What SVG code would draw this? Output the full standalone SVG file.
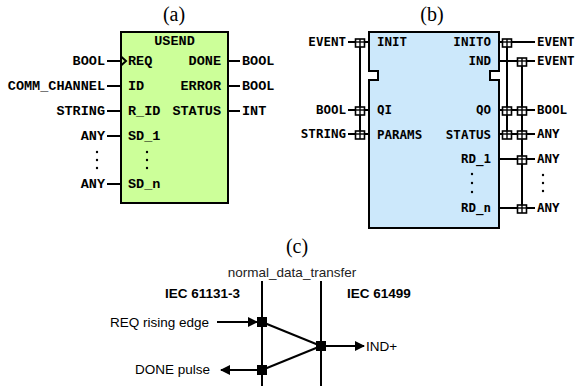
<svg xmlns="http://www.w3.org/2000/svg" width="577" height="391" viewBox="0 0 577 391">
  <style>
    .cap { font-family: "Liberation Serif", "Times New Roman", serif; font-size: 20px; text-anchor: middle; }
    .cour { font-family: "Liberation Mono", "Courier New", monospace; font-weight: bold; font-size: 13.5px; }
    .mono { font-family: "DejaVu Sans Mono", monospace; font-weight: bold; font-size: 12.5px; }
    .sans { font-family: "Liberation Sans", Arial, sans-serif; font-size: 13.5px; }
    .bold { font-weight: bold; }
    .end { text-anchor: end; }
    .mid { text-anchor: middle; }
    .ln { stroke: #000; stroke-width: 2; fill: none; }
    .pin { fill: #fff; stroke: #000; stroke-width: 1.6; }
    .dot { fill: #000; }
  </style>
  <defs>
    <marker id="arrow" viewBox="0 0 10 10" refX="9" refY="5" markerWidth="5" markerHeight="5" orient="auto">
      <path d="M0,0 L10,5 L0,10 Z" fill="#000"/>
    </marker>
    <!-- square junction with the wires crossing through it -->
    <g id="jn">
      <rect x="-4.5" y="-3" width="9" height="8" class="pin"/>
      <line x1="-4.5" y1="0" x2="4.5" y2="0" stroke="#000" stroke-width="1.4"/>
      <line x1="0" y1="-3" x2="0" y2="5" stroke="#000" stroke-width="1.4"/>
    </g>
  </defs>

  <!-- captions -->
  <text class="cap" x="174" y="21">(a)</text>
  <text class="cap" x="432" y="21">(b)</text>
  <text class="cap" x="297" y="253">(c)</text>

  <!-- (a) USEND function block -->
  <g id="usend">
    <rect x="121" y="32" width="107" height="171" fill="#ccff99" stroke="#000" stroke-width="2"/>
    <text class="cour mid" x="174.5" y="45">USEND</text>
    <!-- rising-edge input marker -->
    <polyline points="121,56.5 126,61 121,65.5" class="ln" stroke-width="1.6"/>
    <text class="cour" x="128" y="65">REQ</text>
    <text class="cour" x="128" y="90">ID</text>
    <text class="cour" x="128" y="115">R_ID</text>
    <text class="cour" x="128" y="140">SD_1</text>
    <text class="cour" x="128" y="188">SD_n</text>
    <text class="cour end" x="221" y="65">DONE</text>
    <text class="cour end" x="221" y="90">ERROR</text>
    <text class="cour end" x="221" y="115">STATUS</text>
    <circle class="dot" cx="147" cy="152" r="1.2"/>
    <circle class="dot" cx="147" cy="160" r="1.2"/>
    <circle class="dot" cx="147" cy="168" r="1.2"/>
  </g>
  <g id="usend-pins">
    <g class="ln">
      <line x1="107" y1="61" x2="121" y2="61"/>
      <line x1="107" y1="86" x2="121" y2="86"/>
      <line x1="107" y1="111" x2="121" y2="111"/>
      <line x1="107" y1="136" x2="121" y2="136"/>
      <line x1="107" y1="184" x2="121" y2="184"/>
      <line x1="228" y1="61" x2="240" y2="61"/>
      <line x1="228" y1="86" x2="240" y2="86"/>
      <line x1="228" y1="111" x2="240" y2="111"/>
    </g>
    <text class="cour end" x="105" y="65">BOOL</text>
    <text class="cour end" x="105" y="90">COMM_CHANNEL</text>
    <text class="cour end" x="105" y="115">STRING</text>
    <text class="cour end" x="105" y="140">ANY</text>
    <text class="cour end" x="105" y="188">ANY</text>
    <circle class="dot" cx="97" cy="152" r="1.2"/>
    <circle class="dot" cx="97" cy="160" r="1.2"/>
    <circle class="dot" cx="97" cy="168" r="1.2"/>
    <text class="cour" x="242" y="65">BOOL</text>
    <text class="cour" x="242" y="90">BOOL</text>
    <text class="cour" x="242" y="115">INT</text>
  </g>

  <!-- (b) IEC 61499 function block -->
  <g id="fb61499">
    <path d="M369,32 H499 V71 H490 V80 H499 V228 H369 V80 H378 V71 H369 Z" fill="#cce8fb" stroke="#000" stroke-width="2"/>
    <text class="mono" x="377" y="46">INIT</text>
    <text class="mono" x="377" y="114">QI</text>
    <text class="mono" x="377" y="139">PARAMS</text>
    <text class="mono end" x="491" y="46">INITO</text>
    <text class="mono end" x="491" y="65">IND</text>
    <text class="mono end" x="491" y="114">QO</text>
    <text class="mono end" x="491" y="139">STATUS</text>
    <text class="mono end" x="491" y="163">RD_1</text>
    <text class="mono end" x="491" y="212">RD_n</text>
    <circle class="dot" cx="472" cy="174" r="1.2"/>
    <circle class="dot" cx="472" cy="183" r="1.2"/>
    <circle class="dot" cx="472" cy="192" r="1.2"/>
  </g>
  <g id="fb61499-pins">
    <g class="ln">
      <line x1="348" y1="42" x2="369" y2="42"/>
      <line x1="348" y1="110" x2="369" y2="110"/>
      <line x1="348" y1="134" x2="369" y2="134"/>
      <line x1="360" y1="42" x2="360" y2="134"/>
      <line x1="499" y1="42" x2="535" y2="42"/>
      <line x1="499" y1="61" x2="535" y2="61"/>
      <line x1="499" y1="110" x2="535" y2="110"/>
      <line x1="499" y1="134" x2="535" y2="134"/>
      <line x1="499" y1="159" x2="535" y2="159"/>
      <line x1="499" y1="208" x2="535" y2="208"/>
      <line x1="507" y1="42" x2="507" y2="134"/>
      <line x1="522" y1="61" x2="522" y2="208"/>
    </g>
    <use href="#jn" x="360" y="42"/>
    <use href="#jn" x="360" y="110"/>
    <use href="#jn" x="360" y="134"/>
    <use href="#jn" x="507" y="42"/>
    <use href="#jn" x="522" y="61"/>
    <use href="#jn" x="507" y="110"/>
    <use href="#jn" x="522" y="110"/>
    <use href="#jn" x="507" y="134"/>
    <use href="#jn" x="522" y="134"/>
    <use href="#jn" x="522" y="159"/>
    <use href="#jn" x="522" y="208"/>
    <text class="mono end" x="346" y="46">EVENT</text>
    <text class="mono end" x="346" y="114">BOOL</text>
    <text class="mono end" x="346" y="138">STRING</text>
    <text class="mono" x="537" y="46">EVENT</text>
    <text class="mono" x="537" y="65">EVENT</text>
    <text class="mono" x="537" y="114">BOOL</text>
    <text class="mono" x="537" y="138">ANY</text>
    <text class="mono" x="537" y="163">ANY</text>
    <text class="mono" x="537" y="212">ANY</text>
    <circle class="dot" cx="543" cy="175" r="1.2"/>
    <circle class="dot" cx="543" cy="183" r="1.2"/>
    <circle class="dot" cx="543" cy="191" r="1.2"/>
  </g>

  <!-- (c) event mapping -->
  <g id="mapping">
    <text class="sans mid" x="292" y="277" fill="#222">normal_data_transfer</text>
    <text class="sans bold" x="165" y="298">IEC 61131-3</text>
    <text class="sans bold" x="347" y="298">IEC 61499</text>
    <text class="sans" x="110" y="327">REQ rising edge</text>
    <text class="sans" x="135" y="374">DONE pulse</text>
    <text class="sans" x="366" y="351">IND+</text>
    <g class="ln">
      <line x1="262" y1="281" x2="262" y2="386"/>
      <line x1="321" y1="281" x2="321" y2="386"/>
      <line x1="262" y1="322" x2="321" y2="346"/>
      <line x1="262" y1="370" x2="321" y2="346"/>
      <line x1="217" y1="322" x2="257" y2="322" marker-end="url(#arrow)"/>
      <line x1="262" y1="370" x2="221" y2="370" marker-end="url(#arrow)"/>
      <line x1="321" y1="346" x2="364" y2="346" marker-end="url(#arrow)"/>
    </g>
    <rect x="257" y="317" width="10" height="10"/>
    <rect x="257" y="365" width="10" height="10"/>
    <rect x="316" y="341" width="10" height="10"/>
  </g>
</svg>
